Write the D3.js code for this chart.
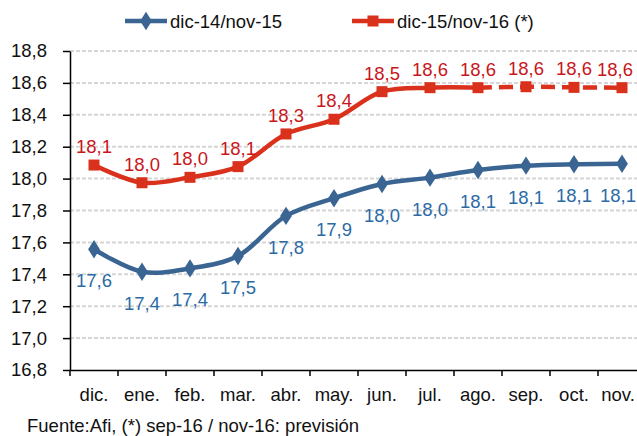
<!DOCTYPE html>
<html>
<head>
<meta charset="utf-8">
<script src="https://cdn.jsdelivr.net/npm/d3@7"></script>
<style>
  body { margin: 0; background: #fff; }
  text { font-family: "Liberation Sans", Arial, sans-serif; }
</style>
</head>
<body>
<div id="chart"></div>
<script>
// data
let months = ["dic.", "ene.", "feb.", "mar.", "abr.", "may.", "jun.", "jul.", "ago.", "sep.", "oct.", "nov."];
let serie1 = [17.557, 17.416, 17.437, 17.515, 17.766, 17.877, 17.966, 18.006, 18.054, 18.081, 18.09, 18.093];
let serie2 = [18.085, 17.974, 18.008, 18.075, 18.28, 18.372, 18.545, 18.57, 18.57, 18.576, 18.572, 18.57];
let labels1 = ["17,6", "17,4", "17,4", "17,5", "17,8", "17,9", "18,0", "18,0", "18,1", "18,1", "18,1", "18,1"];
let labels2 = ["18,1", "18,0", "18,0", "18,1", "18,3", "18,4", "18,5", "18,6", "18,6", "18,6", "18,6", "18,6"];
let yTicks = [16.8, 17.0, 17.2, 17.4, 17.6, 17.8, 18.0, 18.2, 18.4, 18.6, 18.8];
let seriesNames = ["dic-14/nov-15", "dic-15/nov-16 (*)"];
let forecastFrom = 8; // ago. -> nov. dashed

let width = 637, height = 436;
let margin = { top: 51, right: -9, bottom: 66, left: 70 };
let blue = "#3a6592", red = "#d9311b";
let blueText = "#2c6aa6", redText = "#c8161a";
let fs = 18.5;

let svg = d3.select("#chart").append("svg")
    .attr("width", width).attr("height", height);

let x = d3.scaleBand().domain(d3.range(months.length))
    .range([margin.left, width - margin.right]);
let y = d3.scaleLinear().domain([16.8, 18.8])
    .range([height - margin.bottom, margin.top]);

let fmt = d => d.toFixed(1).replace(".", ",");
let cx = i => x(i) + x.bandwidth() / 2;
// keep text inside the frame at the right edge
let lx = (i, half) => Math.min(cx(i), width - half);

// gridlines
svg.append("g").selectAll("line")
    .data(yTicks.filter(d => d > 16.8)).enter().append("line")
    .attr("x1", margin.left).attr("x2", width)
    .attr("y1", d => y(d)).attr("y2", d => y(d))
    .attr("stroke", "#d6d6d6").attr("stroke-width", 2)
    .attr("stroke-dasharray", "4,2");

// y axis
let yAxis = svg.append("g")
    .attr("transform", "translate(" + margin.left + ",0)")
    .call(d3.axisLeft(y).tickValues(yTicks).tickFormat(fmt).tickSize(7).tickPadding(16).tickSizeOuter(0));
yAxis.select(".domain").attr("stroke", "#000").attr("stroke-width", 1.5);
yAxis.selectAll(".tick line").attr("stroke", "#000").attr("stroke-width", 1.5);
yAxis.selectAll(".tick text").attr("font-size", fs).attr("fill", "#111")
    .style("font-family", "'Liberation Sans', Arial, sans-serif");

// x axis
let xAxis = svg.append("g")
    .attr("transform", "translate(0," + y(16.8) + ")")
    .call(d3.axisBottom(x).tickFormat(i => months[i]).tickSize(0).tickPadding(18));
xAxis.select(".domain").attr("stroke", "#000").attr("stroke-width", 1.5);
xAxis.selectAll(".tick text").attr("font-size", fs).attr("fill", "#111")
    .attr("dx", i => lx(i, 19) - cx(i))
    .style("font-family", "'Liberation Sans', Arial, sans-serif");
xAxis.selectAll(".xtick").data(d3.range(months.length)).enter().append("line")
    .attr("x1", i => x(i)).attr("x2", i => x(i))
    .attr("y1", 0).attr("y2", 6)
    .attr("stroke", "#000").attr("stroke-width", 1.5);

let line = d3.line().x((d, i) => cx(i)).y(d => y(d)).curve(d3.curveCatmullRom.alpha(0.5));

// blue series
svg.append("path").datum(serie1)
    .attr("d", line).attr("fill", "none")
    .attr("stroke", blue).attr("stroke-width", 4.5);
svg.append("g").selectAll("path")
    .data(serie1).enter().append("path")
    .attr("d", d3.symbol(d3.symbolDiamond, 120))
    .attr("transform", (d, i) => "translate(" + cx(i) + "," + y(d) + ") scale(1,0.9)")
    .attr("fill", blue);

// red series: solid part then dashed forecast
let lineIdx = d3.line().x(d => cx(d.i)).y(d => y(d.v)).curve(d3.curveCatmullRom.alpha(0.5));
let redPts = serie2.map((v, i) => ({ i: i, v: v }));
svg.append("path").datum(redPts.slice(0, forecastFrom + 1))
    .attr("d", lineIdx).attr("fill", "none")
    .attr("stroke", red).attr("stroke-width", 4.5);
svg.append("path").datum(redPts.slice(forecastFrom))
    .attr("d", lineIdx).attr("fill", "none")
    .attr("stroke", red).attr("stroke-width", 4.5)
    .attr("stroke-dasharray", "14,7");
svg.append("g").selectAll("rect")
    .data(serie2).enter().append("rect")
    .attr("x", (d, i) => cx(i) - 5.5).attr("y", d => y(d) - 5.5)
    .attr("width", 11).attr("height", 11)
    .attr("fill", red);

// data labels
svg.append("g").selectAll("text")
    .data(serie1).enter().append("text")
    .attr("x", (d, i) => lx(i, 19)).attr("y", d => y(d) + 38)
    .attr("text-anchor", "middle").attr("font-size", fs)
    .attr("fill", blueText).text((d, i) => labels1[i]);
svg.append("g").selectAll("text")
    .data(serie2).enter().append("text")
    .attr("x", (d, i) => lx(i, 22)).attr("y", d => y(d) - 12)
    .attr("text-anchor", "middle").attr("font-size", fs)
    .attr("fill", redText).text((d, i) => labels2[i]);

// legend
let legend = svg.append("g");
let legendX = [125, 352];
seriesNames.forEach((name, k) => {
    let g = legend.append("g").attr("transform", "translate(" + legendX[k] + ",21)");
    let col = k == 0 ? blue : red;
    g.append("line").attr("x1", 0).attr("x2", 42).attr("stroke", col).attr("stroke-width", 4.5);
    if (k == 0) {
        g.append("path").attr("d", d3.symbol(d3.symbolDiamond, 120))
            .attr("transform", "translate(21,0) scale(1,0.9)").attr("fill", col);
    } else {
        g.append("rect").attr("x", 15.5).attr("y", -5.5).attr("width", 11).attr("height", 11).attr("fill", col);
    }
    g.append("text").attr("x", 45).attr("y", 6.5).attr("font-size", fs).attr("fill", "#111").text(name);
});

// source
svg.append("text").attr("x", 27).attr("y", 432)
    .attr("font-size", fs).attr("fill", "#111")
    .text("Fuente:Afi, (*) sep-16 / nov-16: previsión");
</script>
</body>
</html>
